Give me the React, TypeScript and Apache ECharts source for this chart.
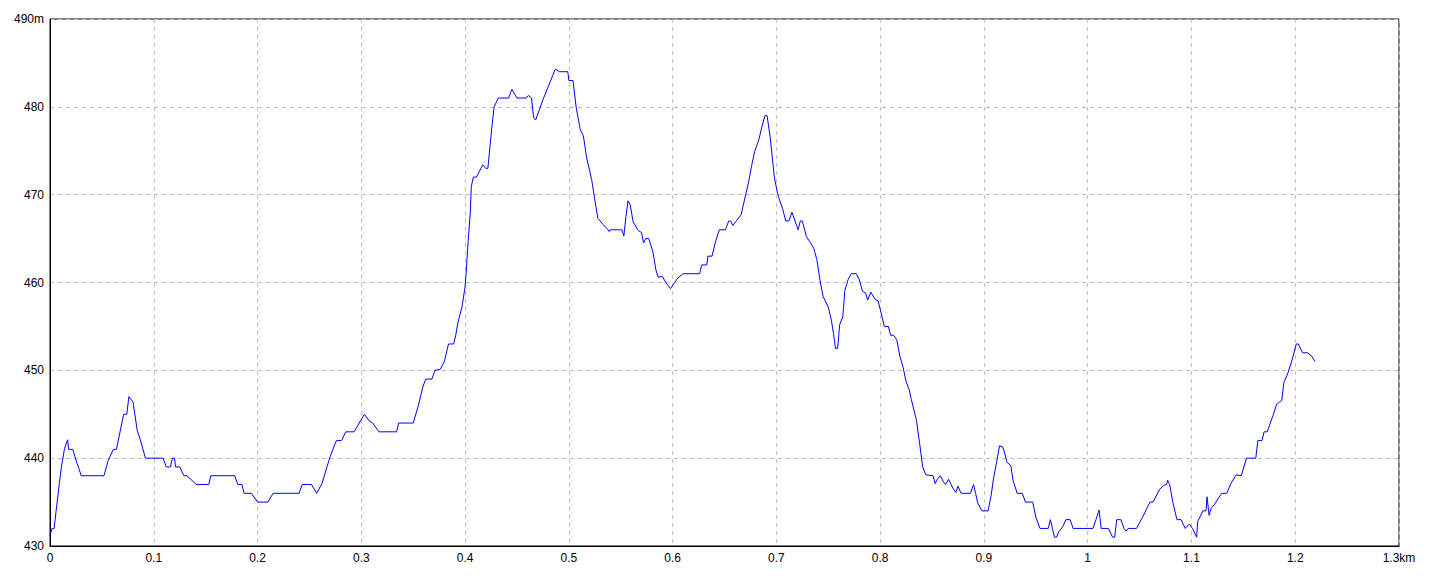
import React, { useEffect, useRef } from "react";
import * as echarts from "echarts";

// distance along the route (km)
const distanceKm: number[] = [
  0.000, 0.002, 0.004, 0.006, 0.009, 0.011, 0.014, 0.017, 0.018, 0.022,
  0.026, 0.028, 0.030, 0.052, 0.056, 0.061, 0.064, 0.071, 0.074, 0.076,
  0.080, 0.084, 0.087, 0.092, 0.109, 0.112, 0.116, 0.118, 0.120, 0.121,
  0.125, 0.129, 0.132, 0.141, 0.153, 0.155, 0.178, 0.181, 0.185, 0.187,
  0.194, 0.200, 0.210, 0.215, 0.240, 0.243, 0.252, 0.257, 0.262, 0.270,
  0.276, 0.281, 0.285, 0.293, 0.303, 0.308, 0.311, 0.317, 0.334, 0.336,
  0.350, 0.355, 0.359, 0.362, 0.368, 0.371, 0.376, 0.380, 0.384, 0.389,
  0.391, 0.393, 0.397, 0.400, 0.401, 0.403, 0.405, 0.406, 0.408, 0.411,
  0.417, 0.420, 0.422, 0.424, 0.426, 0.428, 0.432, 0.442, 0.445, 0.450,
  0.459, 0.461, 0.464, 0.466, 0.468, 0.475, 0.487, 0.491, 0.499, 0.500,
  0.504, 0.507, 0.511, 0.514, 0.517, 0.522, 0.525, 0.528, 0.533, 0.537,
  0.539, 0.540, 0.551, 0.553, 0.555, 0.557, 0.559, 0.562, 0.567, 0.570,
  0.572, 0.574, 0.577, 0.581, 0.584, 0.586, 0.590, 0.594, 0.598, 0.602,
  0.605, 0.610, 0.626, 0.628, 0.633, 0.634, 0.638, 0.641, 0.645, 0.651,
  0.654, 0.656, 0.658, 0.662, 0.666, 0.670, 0.673, 0.676, 0.679, 0.683,
  0.686, 0.689, 0.691, 0.694, 0.696, 0.698, 0.701, 0.703, 0.706, 0.709,
  0.712, 0.715, 0.718, 0.721, 0.723, 0.725, 0.729, 0.733, 0.736, 0.739,
  0.742, 0.745, 0.750, 0.753, 0.755, 0.757, 0.759, 0.761, 0.764, 0.766,
  0.769, 0.772, 0.777, 0.780, 0.783, 0.786, 0.788, 0.791, 0.795, 0.798,
  0.801, 0.804, 0.808, 0.810, 0.813, 0.816, 0.819, 0.822, 0.825, 0.828,
  0.830, 0.835, 0.838, 0.841, 0.844, 0.851, 0.853, 0.855, 0.858, 0.861,
  0.863, 0.866, 0.870, 0.873, 0.875, 0.878, 0.887, 0.890, 0.892, 0.894,
  0.898, 0.904, 0.907, 0.909, 0.912, 0.915, 0.918, 0.920, 0.922, 0.926,
  0.928, 0.932, 0.937, 0.940, 0.947, 0.950, 0.954, 0.962, 0.964, 0.966,
  0.968, 0.970, 0.972, 0.976, 0.979, 0.983, 0.986, 1.005, 1.008, 1.011,
  1.013, 1.020, 1.024, 1.026, 1.028, 1.032, 1.035, 1.037, 1.039, 1.047,
  1.053, 1.060, 1.063, 1.069, 1.073, 1.076, 1.077, 1.079, 1.082, 1.086,
  1.090, 1.094, 1.098, 1.101, 1.105, 1.106, 1.109, 1.111, 1.114, 1.115,
  1.117, 1.119, 1.122, 1.129, 1.134, 1.138, 1.143, 1.148, 1.153, 1.162,
  1.164, 1.168, 1.170, 1.173, 1.176, 1.179, 1.182, 1.187, 1.189, 1.193,
  1.197, 1.201, 1.203, 1.207, 1.212, 1.216, 1.219,
];

// elevation (m)
const elevationM: number[] = [
  431.2, 432, 432, 434.1, 437.1, 439, 441.1, 442.1, 441, 441,
  439.4, 438.8, 438, 438, 439.7, 441, 441, 445, 445, 447,
  446.4, 443.2, 442.1, 440, 440, 439, 439, 440, 440, 439,
  439, 438, 438, 437, 437, 438, 438, 437, 437, 436,
  436, 435, 435, 436, 436, 437, 437, 436, 437.1, 440.2,
  442, 442, 443, 443, 445, 444.2, 444, 443, 443, 444,
  444, 446, 448, 449, 449, 450, 450.1, 451, 453, 453,
  454, 455.4, 457.2, 459.5, 461, 464.8, 467.9, 470.9, 472, 472,
  473.4, 473, 473, 475.5, 477.9, 480, 481, 481, 482, 481,
  481, 481.3, 481, 478.8, 478.5, 480.8, 484.3, 484, 484, 483,
  483, 480, 477.4, 476.7, 474.3, 471.7, 469.4, 467.3, 466.6, 466.1,
  465.8, 466, 466, 465.3, 467.5, 469.3, 468.9, 466.9, 465.9, 465.7,
  464.5, 465, 465, 463.5, 461.4, 460.6, 460.7, 459.9, 459.3, 460,
  460.5, 461, 461, 462, 462, 463, 463, 464.5, 466, 466,
  467, 467, 466.5, 467.1, 467.7, 469.8, 471.3, 473.2, 474.9, 476.2,
  477.7, 479, 479, 476.6, 474.3, 472, 470.2, 469.4, 468.4, 467,
  467, 468, 467, 466, 467, 467, 465.2, 464.5, 463.9, 462.6,
  460.3, 458.4, 457.2, 455.7, 454.2, 452.5, 452.5, 455.2, 456.1, 459.1,
  460.3, 461, 461, 460.3, 459, 458.8, 458, 458.9, 458.1, 457.9,
  456.5, 455, 455, 454, 454, 453.5, 451.6, 450.4, 448.7, 447.8,
  446.7, 444.3, 441.7, 439, 438.1, 438, 437.1, 437.6, 438, 437.3,
  437, 437.6, 436.6, 436.1, 436.8, 436, 436, 437, 436, 434.9,
  434, 434, 435.8, 437.5, 439.4, 441.4, 441.3, 440.6, 439.6, 439.1,
  437.5, 436, 436, 435, 435, 433.3, 432, 432, 433, 432,
  431, 431, 431.6, 432.2, 433, 433, 432, 432, 433, 434.1,
  432, 432, 431, 431, 433, 433, 432, 431.7, 432, 432,
  433.3, 435, 435, 436.4, 436.9, 437, 437.5, 437, 435, 433,
  433, 432, 432.5, 432, 431, 432.8, 433.5, 434, 434, 435.6,
  433.5, 434.3, 434.7, 436, 436, 437.1, 438.1, 438, 440, 440,
  442, 442, 443, 443, 444, 445, 446.1, 446.6, 448.6, 449.7,
  451.2, 453, 453, 452, 452, 451.6, 451,
];

const xTicks = { min: 0, max: 1.3, interval: 0.1, unit: "km" };
const yTicks = { min: 430, max: 490, interval: 10, unit: "m" };

export default function App() {
  const ref = useRef<HTMLDivElement>(null);
  useEffect(() => {
    if (!ref.current) return;
    const chart = echarts.init(ref.current, null, { renderer: "svg" });
    const labelFont = {
      color: "#000",
      fontSize: 12,
      fontFamily: "'Liberation Sans', Arial, sans-serif",
    };
    chart.setOption({
      animation: false,
      backgroundColor: "#fff",
      grid: {
        left: 50,
        right: 41,
        top: 19,
        bottom: 30,
        show: true,
        borderColor: "#000",
        borderWidth: 1,
        backgroundColor: "#fff",
      },
      xAxis: {
        type: "value",
        min: xTicks.min,
        max: xTicks.max,
        interval: xTicks.interval,
        axisLine: { show: true, lineStyle: { color: "#000", width: 1 } },
        axisTick: { show: false },
        axisLabel: {
          ...labelFont,
          margin: 6,
          formatter: (v: number) => {
            const r = Math.round(v * 10) / 10;
            return Math.abs(r - xTicks.max) < 1e-9 ? `${r}${xTicks.unit}` : `${r}`;
          },
        },
        splitLine: {
          show: true,
          lineStyle: { color: "#c0c0c0", type: [4, 4], width: 1 },
        },
      },
      yAxis: {
        type: "value",
        min: yTicks.min,
        max: yTicks.max,
        interval: yTicks.interval,
        axisLine: { show: true, lineStyle: { color: "#000", width: 1 } },
        axisTick: { show: false },
        axisLabel: {
          ...labelFont,
          margin: 6,
          formatter: (v: number) =>
            v === yTicks.max ? `${v}${yTicks.unit}` : `${v}`,
        },
        splitLine: {
          show: true,
          lineStyle: { color: "#c0c0c0", type: [4, 4], width: 1 },
        },
      },
      series: [
        {
          type: "line",
          data: distanceKm.map((d, i) => [d, elevationM[i]]),
          showSymbol: false,
          symbol: "none",
          lineStyle: { color: "#0000ff", width: 1 },
          itemStyle: { color: "#0000ff" },
        },
      ],
    });
    return () => chart.dispose();
  }, []);
  return (
    <div
      ref={ref}
      style={{ position: "fixed", left: 0, top: 0, width: 1440, height: 576 }}
    />
  );
}
